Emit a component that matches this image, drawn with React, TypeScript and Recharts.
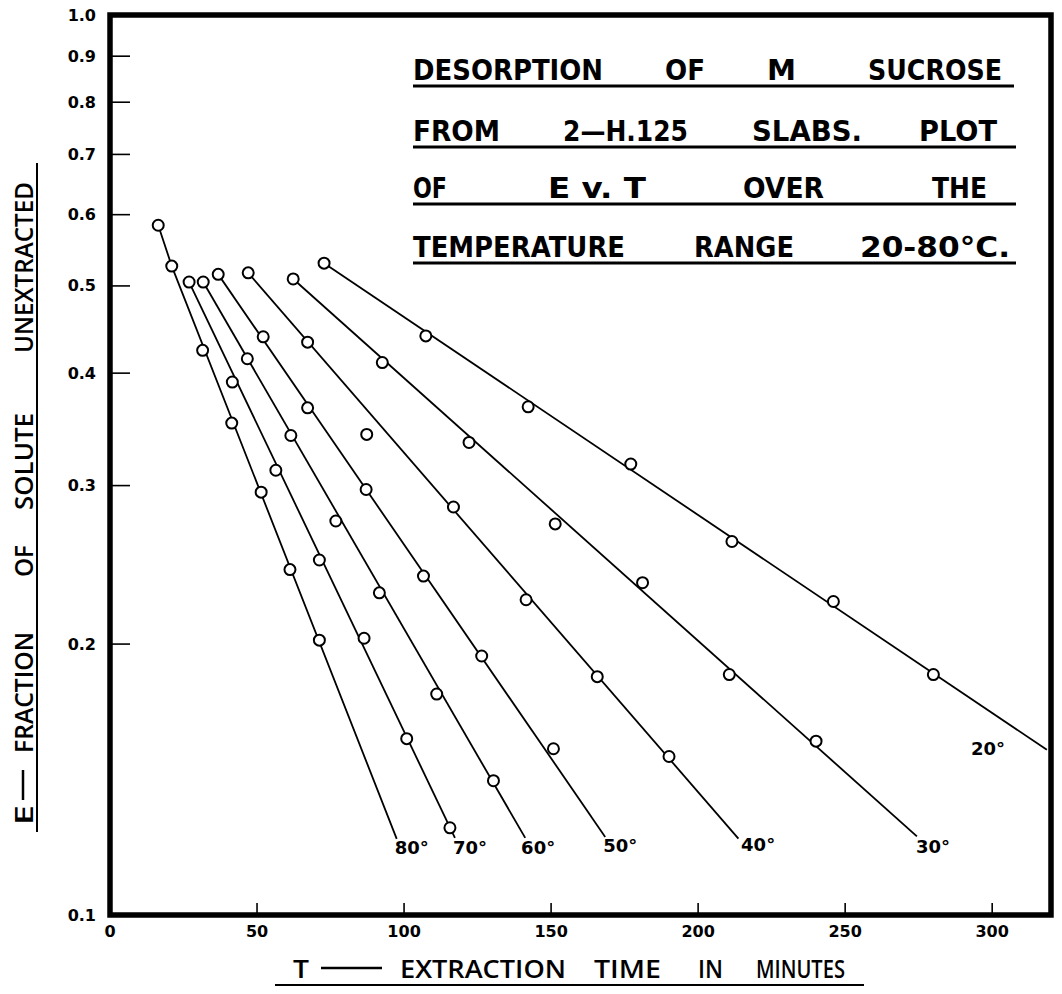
import React from "react";
import { ScatterChart, Scatter, XAxis, YAxis, ReferenceArea } from "recharts";

// extraction time (min) and fraction unextracted E, one pair of arrays per temperature
const t80 = [16.4, 21.0, 31.5, 41.4, 51.4, 61.2, 71.2];
const e80 = [0.584, 0.526, 0.424, 0.352, 0.295, 0.242, 0.202];
const t70 = [26.9, 41.6, 56.4, 71.2, 86.4, 100.9, 115.6];
const e70 = [0.505, 0.391, 0.312, 0.248, 0.203, 0.157, 0.125];
const t60 = [31.7, 46.7, 61.5, 76.8, 91.6, 111.1, 130.4];
const e60 = [0.505, 0.415, 0.341, 0.274, 0.228, 0.176, 0.141];
const t50 = [36.8, 52.1, 67.2, 87.1, 106.6, 126.4, 150.8];
const e50 = [0.515, 0.439, 0.366, 0.297, 0.238, 0.194, 0.153];
const t40 = [47.0, 67.2, 87.3, 116.8, 141.5, 165.7, 190.1];
const e40 = [0.517, 0.433, 0.342, 0.284, 0.224, 0.184, 0.15];
const t30 = [62.3, 92.6, 122.1, 151.4, 181.1, 210.6, 240.1];
const e30 = [0.509, 0.411, 0.335, 0.272, 0.234, 0.185, 0.156];
const t20 = [72.8, 107.4, 142.2, 177.1, 211.5, 246.0, 280.0];
const e20 = [0.53, 0.44, 0.367, 0.317, 0.26, 0.223, 0.185];

// hand drawn straight lines: start and end of each
const fitT80 = [16.4, 21.0, 97.5];
const fitE80 = [0.584, 0.526, 0.1215];
const fitT70 = [26.9, 117.3];
const fitE70 = [0.505, 0.1218];
const fitT60 = [31.7, 141.2];
const fitE60 = [0.505, 0.1218];
const fitT50 = [36.8, 168.4];
const fitE50 = [0.515, 0.1221];
const fitT40 = [47.0, 213.7];
const fitE40 = [0.517, 0.1216];
const fitT30 = [62.3, 274.4];
const fitE30 = [0.509, 0.1223];
const fitT20 = [72.8, 318.6];
const fitE20 = [0.53, 0.1526];

const labelText = ["80°", "70°", "60°", "50°", "40°", "30°", "20°"];
const labelT = [102.6, 122.4, 145.6, 173.5, 220.4, 279.9, 298.6];
const labelE = [0.119, 0.119, 0.119, 0.1196, 0.1199, 0.1193, 0.1533];

const xTicks = [0, 50, 100, 150, 200, 250, 300];
const yTicks = [0.1, 0.2, 0.3, 0.4, 0.5, 0.6, 0.7, 0.8, 0.9, 1.0];

const zip = (t: number[], e: number[]) => t.map((v, i) => ({ t: v, e: e[i] }));

const points = [zip(t80, e80), zip(t70, e70), zip(t60, e60), zip(t50, e50), zip(t40, e40), zip(t30, e30), zip(t20, e20)];
const fits = [
  zip(fitT80, fitE80),
  zip(fitT70, fitE70),
  zip(fitT60, fitE60),
  zip(fitT50, fitE50),
  zip(fitT40, fitE40),
  zip(fitT30, fitE30),
  zip(fitT20, fitE20),
];
const labels = labelText.map((s, i) => ({ t: labelT[i], e: labelE[i], s }));

const tickFont = { fontFamily: "DejaVu Sans", fontWeight: 700, fontSize: 16, fill: "#000" };

const YTick = (props: any) => {
  const { x, y, payload } = props;
  const v = payload.value;
  const edge = v <= 0.1 || v >= 1;
  return (
    <g>
      {!edge && <line x1={x} x2={x + 20} y1={y} y2={y} stroke="#000" strokeWidth={1.6} />}
      <text x={x - 14} y={y} textAnchor="end" dominantBaseline="central" {...tickFont}>
        {v.toFixed(1)}
      </text>
    </g>
  );
};

const XTick = (props: any) => {
  const { x, y, payload } = props;
  const v = payload.value;
  return (
    <g>
      {v > 0 && <line x1={x} x2={x} y1={y} y2={y - 12} stroke="#000" strokeWidth={1.6} />}
      <text x={x} y={y + 16} textAnchor="middle" dominantBaseline="central" {...tickFont}>
        {v}
      </text>
    </g>
  );
};

const Ring = (p: any) => <circle cx={p.cx} cy={p.cy} r={5.5} fill="#fff" stroke="#000" strokeWidth={2} />;
const Nothing = () => <g />;
const LineLabel = (p: any) => (
  <text x={p.cx} y={p.cy} textAnchor="middle" dominantBaseline="central" fontFamily="DejaVu Sans" fontWeight={700} fontSize={18}>
    {p.payload.s}
  </text>
);

// title block words: [text, left, right]
const titleRows: { words: [string, number, number][]; base: number; line: [number, number] }[] = [
  { words: [["DESORPTION", 413, 603], ["OF", 665, 705], ["M", 767, 796], ["SUCROSE", 868, 1002]], base: 80, line: [413, 1014] },
  { words: [["FROM", 413, 500], ["2—H.125", 563, 688], ["SLABS.", 752, 862], ["PLOT", 919, 997]], base: 141, line: [413, 1016] },
  { words: [["OF", 413, 447], ["E  v.  T", 548, 646], ["OVER", 743, 824], ["THE", 932, 987]], base: 198, line: [413, 1016] },
  { words: [["TEMPERATURE", 413, 625], ["RANGE", 694, 794], ["20-80°C.", 860, 1010]], base: 257, line: [413, 1016] },
];

const xTitle: [string, number, number][] = [
  ["T", 293, 309],
  ["EXTRACTION", 400, 566],
  ["TIME", 594, 661],
  ["IN", 698, 723],
  ["MINUTES", 756, 845],
];
// y title words: [text, bottom, top]
const yTitle: [string, number, number][] = [
  ["E", 825, 805],
  ["FRACTION", 753, 632],
  ["OF", 577, 545],
  ["SOLUTE", 510, 413],
  ["UNEXTRACTED", 353, 182],
];

const titleFont = { fontFamily: "DejaVu Sans", fontWeight: 700, fontSize: 28 };
const axisFont = { fontFamily: "Open Sans", fontWeight: 600, fontSize: 26 };

export default function App() {
  return (
    <div style={{ position: "absolute", left: 0, top: 0, width: 1062, height: 994, background: "#fff" }}>
      <ScatterChart width={1062} height={994} margin={{ top: 15, right: 11, bottom: 0, left: 0 }}>
        <XAxis
          type="number"
          dataKey="t"
          domain={[0, 320]}
          ticks={xTicks}
          height={79}
          axisLine={false}
          tickLine={false}
          tickSize={0}
          tickMargin={0}
          tick={<XTick />}
          interval={0}
          allowDataOverflow
        />
        <YAxis
          type="number"
          dataKey="e"
          scale="log"
          domain={[0.1, 1]}
          ticks={yTicks}
          width={110}
          axisLine={false}
          tickLine={false}
          tickSize={0}
          tickMargin={0}
          tick={<YTick />}
          interval={0}
          allowDataOverflow
        />
        {fits.map((d, i) => (
          <Scatter
            key={"f" + i}
            data={d}
            line={{ stroke: "#000", strokeWidth: 1.8 }}
            shape={<Nothing />}
            isAnimationActive={false}
          />
        ))}
        {points.map((d, i) => (
          <Scatter key={"p" + i} data={d} shape={<Ring />} isAnimationActive={false} />
        ))}
        <Scatter data={labels} shape={<LineLabel />} isAnimationActive={false} />
        <ReferenceArea x1={0} x2={320} y1={0.1} y2={1} fill="none" stroke="#000" strokeWidth={5.5} />
      </ScatterChart>
      <svg width={1062} height={994} style={{ position: "absolute", left: 0, top: 0, pointerEvents: "none" }}>
        {titleRows.map((r, i) => (
          <g key={i}>
            {r.words.map(([w, a, b]) => (
              <text key={w + a} x={a} y={r.base} textLength={b - a} lengthAdjust="spacingAndGlyphs" {...titleFont}>
                {w}
              </text>
            ))}
            <line x1={r.line[0]} x2={r.line[1]} y1={r.base + 6} y2={r.base + 6} stroke="#000" strokeWidth={3} />
          </g>
        ))}
        {xTitle.map(([w, a, b]) => (
          <text key={w} x={a} y={978} textLength={b - a} lengthAdjust="spacingAndGlyphs" {...axisFont}>
            {w}
          </text>
        ))}
        <line x1={321} x2={382} y1={968} y2={968} stroke="#000" strokeWidth={2.5} />
        <line x1={275} x2={864} y1={985} y2={985} stroke="#000" strokeWidth={2} />
        {yTitle.map(([w, a, b]) => (
          <text
            key={w}
            transform={`translate(33,${a}) rotate(-90)`}
            textLength={a - b}
            lengthAdjust="spacingAndGlyphs"
            {...axisFont}
          >
            {w}
          </text>
        ))}
        <line x1={23} x2={23} y1={770} y2={800} stroke="#000" strokeWidth={2.5} />
        <line x1={37} x2={37} y1={163} y2={832} stroke="#000" strokeWidth={2} />
      </svg>
    </div>
  );
}
